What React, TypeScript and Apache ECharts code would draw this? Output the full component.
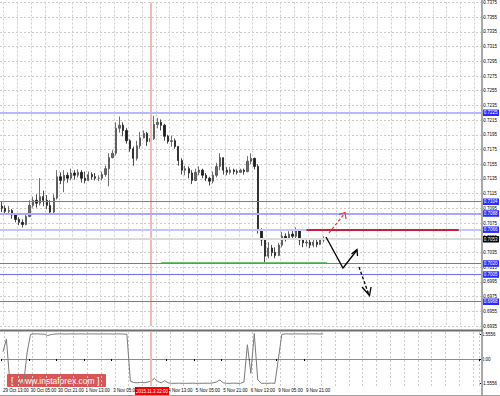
import React, { useEffect, useRef } from "react";
import * as echarts from "echarts";

// ---------- data ----------
const slotCount = 139; // bar slots across the chart (last ones are empty shift space)
const firstOpen = 0.7098;
const closes = [
  0.7095, 0.7091, 0.7092, 0.7086, 0.708, 0.7076, 0.7073, 0.7084, 0.7099, 0.7106,
  0.7102, 0.7111, 0.7106, 0.7099, 0.709, 0.7109, 0.7138, 0.7133, 0.714, 0.7136,
  0.7143, 0.714, 0.7144, 0.7136, 0.7133, 0.7141, 0.7138, 0.7136, 0.7136, 0.7141,
  0.7149, 0.7164, 0.717, 0.7204, 0.7208, 0.7201, 0.7187, 0.7176, 0.7163, 0.718,
  0.7191, 0.7197, 0.7186, 0.719, 0.7209, 0.7212, 0.7208, 0.7193, 0.7186, 0.7187,
  0.7179, 0.716, 0.7147, 0.7149, 0.7143, 0.7133, 0.7144, 0.7147, 0.714, 0.7136,
  0.7132, 0.714, 0.7152, 0.7164, 0.7147, 0.7144, 0.7147, 0.7145, 0.7144, 0.7147,
  0.7145, 0.7159, 0.7163, 0.7152, 0.7065, 0.7052, 0.703, 0.7041, 0.7035, 0.7031,
  0.7045, 0.7057, 0.7054, 0.706, 0.7057, 0.7065, 0.7052, 0.7048, 0.7049, 0.7045,
  0.7049, 0.7046, 0.7052, 0.7053,
];
const highs = [
  0.7105, 0.7099, 0.7098, 0.7094, 0.7088, 0.7083, 0.708, 0.7088, 0.7106, 0.7111,
  0.7114, 0.7136, 0.7119, 0.7113, 0.7106, 0.7114, 0.7147, 0.7144, 0.7147, 0.7144,
  0.7149, 0.7147, 0.7148, 0.7147, 0.7145, 0.7145, 0.7144, 0.7143, 0.714, 0.7145,
  0.7153, 0.717, 0.7174, 0.7212, 0.722, 0.7212, 0.7204, 0.7189, 0.7179, 0.7187,
  0.7199, 0.7201, 0.7199, 0.7198, 0.7221, 0.7218, 0.7216, 0.721, 0.7195, 0.7194,
  0.719, 0.718, 0.7163, 0.7153, 0.7152, 0.7147, 0.7149, 0.7152, 0.7149, 0.7143,
  0.7138, 0.7145, 0.7157, 0.717, 0.7164, 0.7151, 0.7151, 0.7149, 0.7148, 0.7149,
  0.7149, 0.7166, 0.717, 0.7164, 0.7155, 0.7068, 0.7054, 0.7049, 0.7045, 0.7042,
  0.7048, 0.7063, 0.7061, 0.7064, 0.7064, 0.7069, 0.7067, 0.7054, 0.7053, 0.7052,
  0.7053, 0.7052, 0.7054, 0.7057,
];
const lows = [
  0.709, 0.7087, 0.7086, 0.7081, 0.7076, 0.7072, 0.7069, 0.7072, 0.7083, 0.7096,
  0.7096, 0.7099, 0.7098, 0.7094, 0.7087, 0.7088, 0.7107, 0.7128, 0.7117, 0.713,
  0.7133, 0.7134, 0.7137, 0.713, 0.7129, 0.7132, 0.7134, 0.7133, 0.7132, 0.7133,
  0.7138, 0.7125, 0.7163, 0.7167, 0.7198, 0.7193, 0.7183, 0.7172, 0.7153, 0.716,
  0.7176, 0.719, 0.718, 0.7182, 0.7188, 0.7204, 0.7201, 0.7187, 0.7183, 0.7179,
  0.7176, 0.7153, 0.7141, 0.714, 0.7136, 0.7128, 0.7132, 0.714, 0.7136, 0.7132,
  0.7126, 0.7129, 0.7137, 0.7147, 0.7141, 0.714, 0.7141, 0.7141, 0.7141, 0.7143,
  0.7141, 0.7144, 0.7155, 0.7148, 0.7061, 0.7044, 0.7022, 0.7027, 0.703, 0.7027,
  0.703, 0.7042, 0.705, 0.7052, 0.7053, 0.7054, 0.7045, 0.7042, 0.7043, 0.7041,
  0.7042, 0.7042, 0.7045, 0.7049,
];
const indicator = [
  0.45, 1.25, -1.5, -1.53, -1.53, -1.52, -1.53, 0.4, 1.55, 1.58,
  1.58, 1.57, 1.56, 1.48, 1.54, 1.57, 1.58, 1.58, 1.57, 1.58,
  1.58, 1.57, 1.58, 1.58, 1.57, 1.58, 1.58, 1.58, 1.57, 1.58,
  1.58, 1.58, 1.57, 1.58, 1.58, 1.57, 1.55, -1.4, -1.48, -1.5,
  -1.47, -1.5, -1.45, -1.4, -1.22, -1.42, -1.5, -1.36, -1.5, -1.53,
  -1.53, -1.52, -1.53, -1.53, -1.53, -1.52, -1.53, -1.53, -1.53, -1.52,
  -1.53, -1.5, -1.45, -1.32, -1.5, -1.53, -1.53, -1.52, -1.53, -1.53,
  -1.45, 0.9, -0.9, 1.6, -1.3, -1.53, -1.53, -1.53, -1.52, -1.53,
  0.0, 1.55, 1.58, 1.58, 1.57, 1.58, 1.58, 1.58, 1.57, 1.58,
  1.58, 1.58, 1.57, 1.58,
];
const timeLabels = [
  "29 Oct 13:00", "30 Oct 05:00", "30 Oct 21:00", "1 Nov 13:00", "3 Nov 05:00",
  "4 Nov 13:00", "5 Nov 05:00", "5 Nov 21:00", "6 Nov 13:00", "9 Nov 05:00", "9 Nov 21:00",
];
const timeLabelSlots = [0, 8, 16, 24, 32, 48, 56, 64, 72, 80, 88];
const currentTimeLabel = "2015.11.3 22:00";
const currentTimeSlot = 43;
const priceMin = 0.6935;
const priceMax = 0.7375;
const priceStep = 0.002;
const levelPrices = [0.7225, 0.7104, 0.7088, 0.7066, 0.702, 0.7005, 0.6968];
const bidPrice = 0.7053;
const resistancePrice = 0.7066;
const resistanceSlots = [88, 132];
const supportPrice = 0.7021;
const supportSlots = [46, 94];
const indicatorTicks = [-1.5556, 0, 1.5556];

// ---------- styles ----------
const FONT = "Liberation Sans, Arial, sans-serif";
const levelStyles = [
  { color: "#b8b8ff", width: 2 },
  { color: "#6c6cff", width: 1.2 },
  { color: "#a8a8ff", width: 2 },
  { color: "#c4c4ff", width: 2 },
  { color: "#6c6cff", width: 1.2 },
  { color: "#6c6cff", width: 1.2 },
  { color: "#6c6cff", width: 1.2 },
];
const gridLine = { color: "#cccccc", type: [2, 2] as number[], width: 1 };

export default function App() {
  const ref = useRef<HTMLDivElement>(null);

  useEffect(() => {
    if (!ref.current) return;
    const chart = echarts.init(ref.current, undefined, { renderer: "svg" });
    const categories = Array.from({ length: slotCount }, (_, i) => String(i));
    const candles = closes.map((c, i) => [i === 0 ? firstOpen : closes[i - 1], c, lows[i], highs[i]]);
    const splitInterval = (i: number) => i % 4 === 1;
    const labelInterval = (i: number) => timeLabelSlots.indexOf(i) >= 0;
    const tagLabel = (text: string, bg: string) => ({
      show: true,
      position: "end",
      distance: 1,
      formatter: text,
      color: "#ffffff",
      backgroundColor: bg,
      padding: [1, 1.5, 0.5, 1.5],
      fontSize: 4.5,
      fontFamily: FONT,
    });

    const levelLines: any[] = levelPrices.map((p, i) => ({
      yAxis: p,
      lineStyle: { color: levelStyles[i].color, width: levelStyles[i].width, type: "solid", opacity: 1 },
      label: tagLabel(p.toFixed(4), "#2a2aff"),
    }));

    const option: any = {
      animation: false,
      backgroundColor: "#ffffff",
      grid: [
        { left: 0, right: 18, top: 1.5, height: 324.5 },
        { left: 0, right: 18, top: 332, height: 54 },
      ],
      xAxis: [
        {
          type: "category",
          gridIndex: 0,
          data: categories,
          axisLine: { show: false },
          axisTick: { show: false },
          axisLabel: { show: false },
          splitLine: { show: true, interval: splitInterval, lineStyle: gridLine },
        },
        {
          type: "category",
          gridIndex: 1,
          data: categories,
          axisLine: { show: true, lineStyle: { color: "#8c8c8c", width: 1 } },
          axisTick: { show: true, interval: labelInterval, length: 2, lineStyle: { color: "#000" } },
          axisLabel: {
            show: true,
            interval: labelInterval,
            align: "left",
            margin: 2,
            fontSize: 4.5,
            fontFamily: FONT,
            color: "#000",
            formatter: (v: string) => {
              const k = timeLabelSlots.indexOf(Number(v));
              return k >= 0 ? timeLabels[k] : "";
            },
          },
          splitLine: { show: true, interval: splitInterval, lineStyle: gridLine },
        },
      ],
      yAxis: [
        {
          type: "value",
          gridIndex: 0,
          position: "right",
          min: priceMin,
          max: priceMax,
          interval: priceStep,
          axisLine: { show: false },
          axisTick: { show: true, length: 2, lineStyle: { color: "#000" } },
          axisLabel: {
            margin: 2,
            fontSize: 4.5,
            fontFamily: FONT,
            color: "#000",
            formatter: (v: number) => v.toFixed(4),
          },
          splitLine: { show: true, lineStyle: gridLine },
        },
        {
          type: "value",
          gridIndex: 1,
          position: "right",
          min: -1.7,
          max: 1.7,
          axisLine: { show: false },
          axisTick: { show: true, length: 2, customValues: indicatorTicks, lineStyle: { color: "#000" } },
          axisLabel: {
            customValues: indicatorTicks,
            margin: 2,
            fontSize: 4.5,
            fontFamily: FONT,
            color: "#000",
            formatter: (v: number) => (v === 0 ? "0.00" : v.toFixed(4)),
          },
          splitLine: { show: false },
        },
      ],
      series: [
        {
          type: "candlestick",
          xAxisIndex: 0,
          yAxisIndex: 0,
          data: candles,
          barWidth: 1.8,
          itemStyle: {
            color: "#6a6a6a",
            color0: "#1c1c1c",
            borderColor: "#4a4a4a",
            borderColor0: "#1c1c1c",
            borderWidth: 0.8,
          },
          markLine: {
            silent: true,
            precision: 4,
            symbol: ["none", "none"],
            z: 10,
            data: [
              { xAxis: currentTimeSlot, lineStyle: { color: "#ffb4b4", width: 2, type: "solid" }, label: { show: false } },
              {
                yAxis: bidPrice,
                lineStyle: { color: "#dadada", width: 2, type: "solid" },
                label: tagLabel(bidPrice.toFixed(4), "#000000"),
              },
              ...levelLines,
              [
                { coord: [resistanceSlots[0], resistancePrice], lineStyle: { color: "#c8203c", width: 2, type: "solid" }, label: { show: false } },
                { coord: [resistanceSlots[1], resistancePrice] },
              ],
              [
                { coord: [supportSlots[0], supportPrice], lineStyle: { color: "#3cb043", width: 1.5, type: "solid" }, label: { show: false } },
                { coord: [supportSlots[1], supportPrice] },
              ],
            ],
          },
        },
        {
          type: "line",
          xAxisIndex: 1,
          yAxisIndex: 1,
          data: indicator,
          symbol: "none",
          lineStyle: { color: "#7a7a7a", width: 1 },
          markLine: {
            silent: true,
            precision: 4,
            symbol: ["none", "none"],
            data: [{ xAxis: currentTimeSlot, lineStyle: { color: "#ffb4b4", width: 2, type: "solid" }, label: { show: false } }],
          },
        },
      ],
      graphic: [
        { type: "rect", z: 50, shape: { x: 481, y: 0, width: 2, height: 396 }, style: { fill: "#a8a8a8" } },
        { type: "rect", z: 50, shape: { x: 0, y: 329.5, width: 483, height: 2 }, style: { fill: "#6e6e6e" } },
        { type: "rect", z: 50, shape: { x: 0, y: 395, width: 500, height: 1 }, style: { fill: "#a0a0a0" } },
        {
          type: "group",
          z: 60,
          children: [
            { type: "rect", shape: { x: 135, y: 387, width: 34, height: 8 }, style: { fill: "#ff0000" } },
            {
              type: "text",
              x: 152,
              y: 391,
              style: { text: currentTimeLabel, fill: "#ffffff", fontSize: 4.5, fontFamily: FONT, align: "center", verticalAlign: "middle" },
            },
          ],
        },
        {
          type: "group",
          z: 60,
          children: [
            { type: "rect", shape: { x: 7, y: 374, width: 99, height: 13, r: 1 }, style: { fill: "rgba(214,72,72,0.92)" } },
            { type: "text", x: 11, y: 380.5, style: { text: "[", fill: "#fff", fontSize: 9, fontFamily: FONT, verticalAlign: "middle" } },
            { type: "text", x: 19, y: 380.5, style: { text: "www.instaforex.com", fill: "#fff", fontSize: 8.5, fontFamily: FONT, verticalAlign: "middle" } },
            { type: "text", x: 97, y: 380.5, style: { text: "]", fill: "#fff", fontSize: 9, fontFamily: FONT, verticalAlign: "middle" } },
          ],
        },
        // hand-drawn arrows
        { type: "polyline", z: 70, shape: { points: [[329, 233], [345, 213]] }, style: { stroke: "#ff2a2a", lineWidth: 1.2, lineDash: [3, 2], fill: null } },
        { type: "polyline", z: 70, shape: { points: [[339, 214.5], [345, 212.5], [346, 219]] }, style: { stroke: "#ff2a2a", lineWidth: 1.2, fill: null } },
        { type: "polyline", z: 70, shape: { points: [[326, 237], [343, 268], [357, 250]] }, style: { stroke: "#000", lineWidth: 1.3, fill: null } },
        { type: "polyline", z: 70, shape: { points: [[351.5, 254], [357, 249.5], [357.5, 256]] }, style: { stroke: "#000", lineWidth: 1.3, fill: null } },
        { type: "polyline", z: 70, shape: { points: [[359, 267], [369, 295]] }, style: { stroke: "#000", lineWidth: 1.3, lineDash: [3, 2], fill: null } },
        { type: "polyline", z: 70, shape: { points: [[362, 287], [369.5, 295.5], [371, 287]] }, style: { stroke: "#000", lineWidth: 1.3, fill: null } },
      ],
    };
    chart.setOption(option);
    return () => chart.dispose();
  }, []);

  return <div ref={ref} style={{ position: "fixed", left: 0, top: 0, width: 500, height: 396, background: "#fff" }} />;
}
